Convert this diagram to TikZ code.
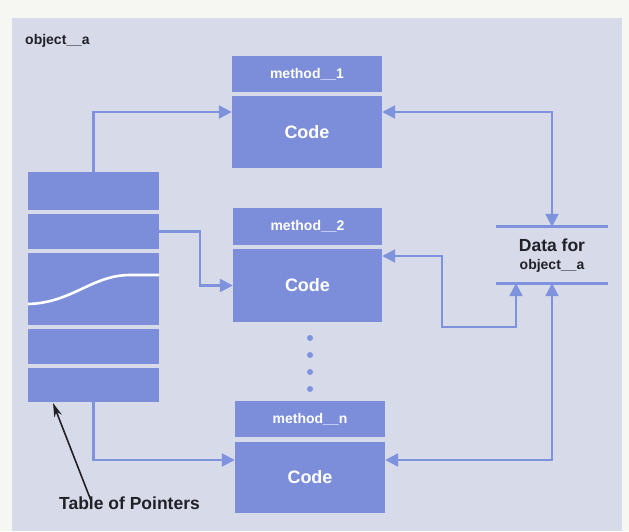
\documentclass[tikz,border=0pt]{standalone}
\usepackage{fontspec}
\setmainfont{Liberation Sans}
\usetikzlibrary{arrows.meta}
\definecolor{bg}{RGB}{246,246,243}
\definecolor{panel}{RGB}{215,219,233}
\definecolor{boxblue}{RGB}{124,142,218}
\definecolor{lineblue}{RGB}{126,146,222}
\definecolor{txt}{RGB}{32,32,38}
\begin{document}
\begin{tikzpicture}[x=1pt,y=-1pt,
  >={Triangle[length=13pt,width=13pt]},
  box/.style={fill=boxblue, inner sep=0pt, text=white, font=\bfseries\fontsize{18}{20}\selectfont},
  hdr/.style={box, font=\bfseries\fontsize{14}{16}\selectfont},
  row/.style={fill=boxblue, inner sep=0pt, minimum width=131pt},
  conn/.style={draw=lineblue, line width=2.4pt},
  bar/.style={draw=lineblue, line width=3pt},
  dotmark/.style={circle, fill=lineblue, inner sep=0pt, minimum size=6pt},
  label/.style={text=txt, font=\bfseries\fontsize{17.5}{20}\selectfont, inner sep=0pt}
]
\useasboundingbox (0,0) rectangle (629,531);
\fill[bg] (0,0) rectangle (629,531);
\fill[panel] (12,18) rectangle (622,531);

\node[text=txt, font=\bfseries\fontsize{14}{16}\selectfont, anchor=west, inner sep=0pt] (obj) at (25,41) {object\_\_a};

% methods
\node[hdr, minimum width=150pt, minimum height=36pt] (m1h) at (307,74) {method\_\_1};
\node[box, minimum width=150pt, minimum height=72pt] (m1c) at (307,132) {Code};
\node[hdr, minimum width=149pt, minimum height=37pt] (m2h) at (307.5,226.5) {method\_\_2};
\node[box, minimum width=149pt, minimum height=73pt] (m2c) at (307.5,285.5) {Code};
\node[hdr, minimum width=150pt, minimum height=36pt] (mnh) at (310,419) {method\_\_n};
\node[box, minimum width=150pt, minimum height=71pt] (mnc) at (310,477.5) {Code};

% dots
\node[dotmark] (d1) at (310,338) {};
\node[dotmark] (d2) at (310,355) {};
\node[dotmark] (d3) at (310,372) {};
\node[dotmark] (d4) at (310,389) {};

% table of pointers
\node[row, minimum height=38pt] (t1) at (93.5,191) {};
\node[row, minimum height=35pt] (t2) at (93.5,231.5) {};
\node[row, minimum height=72pt] (t3) at (93.5,289) {};
\node[row, minimum height=35pt] (t4) at (93.5,346.5) {};
\node[row, minimum height=34pt] (t5) at (93.5,385) {};
\draw[white, line width=2.6pt] (t3.west |- 0,304) .. controls (72,303) and (92,275) .. (130,275) -- (t3.east |- 0,275);

% data
\node[inner sep=0pt, minimum width=112pt, minimum height=56pt] (data) at (552,255) {};
\node[text=txt, inner sep=0pt, font=\bfseries\fontsize{17.5}{20}\selectfont] (dt1) at (552,245) {Data for};
\node[text=txt, inner sep=0pt, font=\bfseries\fontsize{14}{16}\selectfont] (dt2) at (552,266) {object\_\_a};
\draw[bar] (data.north west) -- (data.north east);
\draw[bar] (data.south west) -- (data.south east);

% connectors
\draw[conn,->] (t1.north) |- (m1c.west |- 0,112);
\draw[conn,->] (t2.east) -- (t2.east -| 200,0) |- (m2c.west);
\draw[conn,->] (t5.south) |- (mnc.west |- 0,460);
\draw[conn,<->] (m1c.east |- 0,112) -| (data.north);
\draw[conn,<->] (m2c.east |- 0,256) -- (442,256) |- (516,327) -- (data.south -| 516,0);
\draw[conn,<->] (mnc.east |- 0,460) -| (data.south);

% label
\node[label] (tp) at (129.5,503) {Table of Pointers};
\coordinate (tip) at (53,403);
\draw[txt, line width=1.6pt, -{Stealth[length=14pt,width=8pt]}] ([xshift=-39pt,yshift=-3pt]tp.north) -- (tip);
\end{tikzpicture}
\end{document}
